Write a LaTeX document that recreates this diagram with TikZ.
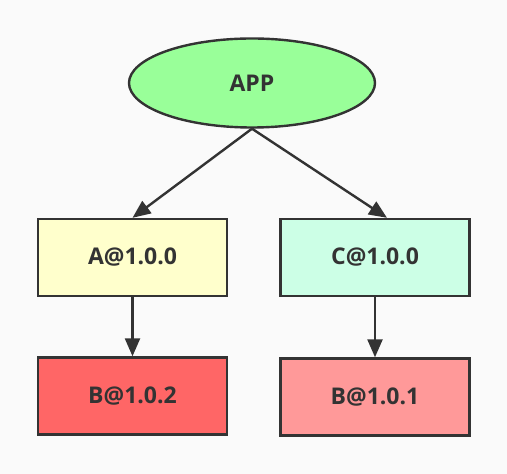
\documentclass[tikz,border=0pt]{standalone}
\usepackage{fontspec}
\setmainfont{Open Sans}[BoldFont={Open Sans Bold}]
\usetikzlibrary{arrows.meta,shapes.geometric}
\definecolor{bg}{HTML}{FAFAFA}
\definecolor{strk}{HTML}{333333}
\definecolor{appc}{HTML}{99FF99}
\definecolor{ac}{HTML}{FFFFCC}
\definecolor{cc}{HTML}{CCFFE6}
\definecolor{bred}{HTML}{FF6666}
\definecolor{bpink}{HTML}{FF9999}
\tikzset{
  lbl/.style={font=\bfseries\fontsize{23}{25}\selectfont, text=strk},
  box/.style={lbl, draw=strk, line width=2.4pt, minimum width=189pt, minimum height=77pt, inner sep=0pt},
  oval/.style={lbl, ellipse, draw=strk, line width=2.4pt, minimum width=246pt, minimum height=89pt, inner sep=0pt},
  conn/.style={draw=strk, line width=2.4pt, -{Triangle[length=18pt,width=15pt]}}
}
\begin{document}
\begin{tikzpicture}[x=1pt,y=1pt]
\fill[bg] (0,0) rectangle (507,474);
\useasboundingbox (0,0) rectangle (507,474);
\node[oval, fill=appc] (app) at (252,391) {APP};
\node[box, fill=ac] (a) at (132.5,216.5) {A@1.0.0};
\node[box, fill=cc] (c) at (375,216.5) {C@1.0.0};
\node[box, fill=bred] (b2) at (132.5,78) {B@1.0.2};
\node[box, fill=bpink] (b1) at (375,77) {B@1.0.1};
\draw[conn] (app.south) -- (a.north);
\draw[conn] (app.south) -- ([xshift=12pt]c.north);
\draw[conn] (a.south) -- (b2.north);
\draw[conn] (c.south) -- (b1.north);
\end{tikzpicture}
\end{document}
